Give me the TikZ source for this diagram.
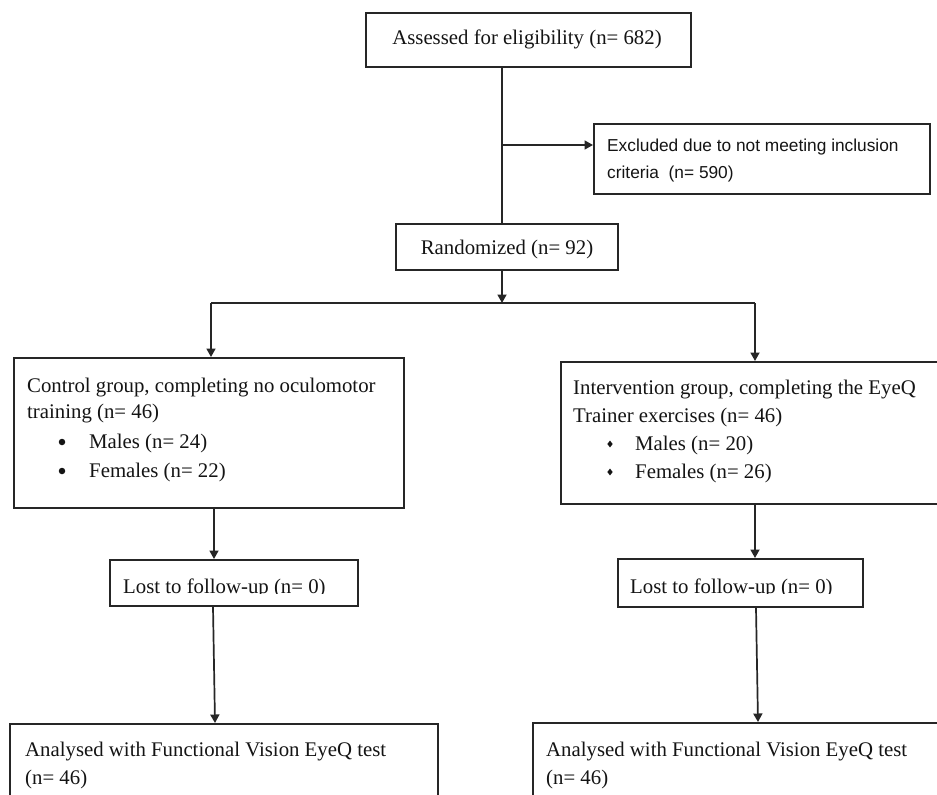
\documentclass[tikz,border=0pt]{standalone}
\usepackage{fontspec}
\setmainfont{Liberation Serif}
\newfontfamily\arialf{Liberation Sans}
\usetikzlibrary{arrows.meta,shapes.geometric}
\definecolor{ln}{HTML}{262626}
\definecolor{tx}{HTML}{141414}
\newcommand\szserif{\fontsize{20.8}{28}\selectfont}
\newcommand\szsans{\fontsize{17.3}{27}\selectfont\arialf}
\begin{document}
\begin{tikzpicture}[x=1pt,y=-1pt,
  box/.style={draw=ln, line width=1.9pt, inner sep=0pt, anchor=north west},
  txt/.style={inner sep=0pt, anchor=base west, text=tx, font=\szserif},
  stxt/.style={inner sep=0pt, anchor=base west, text=tx, font=\szsans},
  conn/.style={draw=ln, line width=1.7pt},
  arr/.style={conn, -{Triangle[length=8.5pt,width=9pt]}},
  dbul/.style={diamond, fill=tx, inner sep=0pt, minimum width=5.5pt, minimum height=7pt},
  cbul/.style={circle, fill=tx, inner sep=0pt, minimum size=6.5pt},
]
\useasboundingbox (0,0) rectangle (937,795);
\fill[white] (0,0) rectangle (937,795);
\clip (0,0) rectangle (937,795);

% boxes
\node[box, minimum width=325pt, minimum height=54pt] (assess) at (365,12) {};
\node[box, minimum width=336pt, minimum height=70pt] (excl) at (593,123) {};
\node[box, minimum width=222pt, minimum height=46pt] (rand) at (395,223) {};
\node[box, minimum width=390pt, minimum height=150pt] (ctrl) at (13,357) {};
\node[box, minimum width=392pt, minimum height=142pt] (interv) at (560,361) {};
\node[box, minimum width=248pt, minimum height=46pt] (lost1) at (109,559) {};
\node[box, minimum width=245pt, minimum height=48pt] (lost2) at (617,558) {};
\node[box, minimum width=428pt, minimum height=150pt] (anal1) at (9,723) {};
\node[box, minimum width=428pt, minimum height=150pt] (anal2) at (532,722) {};

% texts
\node[txt, anchor=base] (assesst) at (527,44) {Assessed for eligibility (n= 682)};
\node[stxt] (exclt1) at (607,151) {Excluded due to not meeting inclusion};
\node[stxt] (exclt2) at (607,178) {criteria~~(n= 590)};
\node[txt, anchor=base] (randt) at (507,254) {Randomized (n= 92)};

\node[txt] (ctrlt1) at (27,392) {Control group, completing no oculomotor};
\node[txt] (ctrlt2) at (27,418) {training (n= 46)};
\node[cbul] (cb1) at (62,442) {};
\node[txt] (ctrlt3) at (89,448) {Males (n= 24)};
\node[cbul] (cb2) at (62,471) {};
\node[txt] (ctrlt4) at (89,477) {Females (n= 22)};

\node[txt] (intt1) at (573,394) {Intervention group, completing the EyeQ};
\node[txt] (intt2) at (573,422) {Trainer exercises (n= 46)};
\node[dbul] (ib1) at (610,444) {};
\node[txt] (intt3) at (635,450) {Males (n= 20)};
\node[dbul] (ib2) at (610,472) {};
\node[txt] (intt4) at (635,478) {Females (n= 26)};

\begin{scope}
\clip (100,540) rectangle (880,593.8);
\node[txt] (lost1t) at (123,593) {Lost to follow-up (n= 0)};
\node[txt] (lost2t) at (630,593) {Lost to follow-up (n= 0)};
\end{scope}

\node[txt] (anal1t1) at (25,756) {Analysed with Functional Vision EyeQ test};
\node[txt] (anal1t2) at (25,784) {(n= 46)};
\node[txt] (anal2t1) at (546,756) {Analysed with Functional Vision EyeQ test};
\node[txt] (anal2t2) at (546,784) {(n= 46)};

% connectors
\coordinate (spine) at (502,0);
\draw[conn] (assess.south -| spine) -- (rand.north -| spine);
\coordinate (exy) at (0,145);
\draw[arr] (spine |- exy) -- (excl.west |- exy);
\coordinate (split) at (502,303);
\draw[arr] (rand.south -| spine) -- (split);
\coordinate (bl) at (211,303);
\coordinate (br) at (755,303);
\draw[conn] (bl) -- (br);
\draw[arr] (bl) -- (bl |- ctrl.north);
\draw[arr] (br) -- (br |- interv.north);
\coordinate (c1) at (214,0);
\draw[arr] (ctrl.south -| c1) -- (lost1.north -| c1);
\coordinate (c2) at (755,0);
\draw[arr] (interv.south -| c2) -- (lost2.north -| c2);
\coordinate (d1a) at (213,0);
\coordinate (d1b) at (215,0);
\draw[arr] (lost1.south -| d1a) -- (anal1.north -| d1b);
\coordinate (d2a) at (756,0);
\coordinate (d2b) at (758,0);
\draw[arr] (lost2.south -| d2a) -- (anal2.north -| d2b);
\end{tikzpicture}
\end{document}
